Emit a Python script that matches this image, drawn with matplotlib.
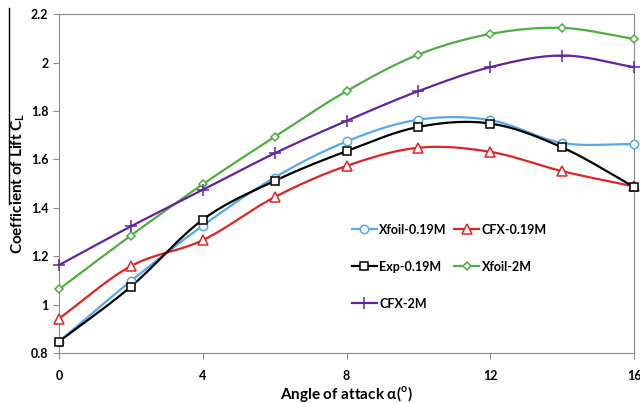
import numpy as np
import matplotlib.pyplot as plt
from matplotlib.lines import Line2D

plt.rcParams['font.family'] = ['Lato', 'DejaVu Sans']
plt.rcParams['mathtext.fontset'] = 'custom'
plt.rcParams['mathtext.rm'] = 'Lato'
plt.rcParams['mathtext.bf'] = 'Lato:bold'

# angle of attack (deg)
alpha = [0, 2, 4, 6, 8, 10, 12, 14, 16]

# lift coefficient
xfoil_019 = [0.847, 1.097, 1.326, 1.525, 1.674, 1.764, 1.762, 1.668, 1.663]
cfx_019 = [0.942, 1.159, 1.266, 1.444, 1.573, 1.648, 1.631, 1.551, 1.488]
exp_019 = [0.847, 1.074, 1.351, 1.511, 1.634, 1.734, 1.748, 1.649, 1.486]
xfoil_2m = [1.063, 1.285, 1.497, 1.693, 1.882, 2.033, 2.118, 2.143, 2.097]
cfx_2m = [1.163, 1.323, 1.474, 1.625, 1.759, 1.882, 1.981, 2.029, 1.981]

labels = ['Xfoil-0.19M', 'CFX-0.19M', 'Exp-0.19M', 'Xfoil-2M', 'CFX-2M']
colors = ['#55a8ec', '#e02424', '#000000', '#4caf3f', '#6422a0']
markers = ['o', '^', 's', 'D', '+']
msizes = [6, 7.5, 6, 4.5, 8]


def smooth(x, y, n=20):
    # Catmull-Rom curve through the points (like Excel's smoothed line)
    x = np.asarray(x, float)
    y = np.asarray(y, float)
    px = np.concatenate([[2 * x[0] - x[1]], x, [2 * x[-1] - x[-2]]])
    py = np.concatenate([[2 * y[0] - y[1]], y, [2 * y[-1] - y[-2]]])
    xs, ys = [], []
    t = np.linspace(0, 1, n, endpoint=False)
    for i in range(1, len(px) - 2):
        for p, out in ((px, xs), (py, ys)):
            p0, p1, p2, p3 = p[i - 1], p[i], p[i + 1], p[i + 2]
            out.extend(0.5 * (2 * p1 + (-p0 + p2) * t
                              + (2 * p0 - 5 * p1 + 4 * p2 - p3) * t ** 2
                              + (-p0 + 3 * p1 - 3 * p2 + p3) * t ** 3))
    xs.append(x[-1])
    ys.append(y[-1])
    return xs, ys


fig = plt.figure(figsize=(6.4, 4.03), dpi=100)
ax = fig.add_axes([0.092, 0.124, 0.899, 0.841])

series = [xfoil_019, cfx_019, exp_019, xfoil_2m, cfx_2m]
handles = {}
for vals, lab, c, m, ms in zip(series, labels, colors, markers, msizes):
    sx, sy = smooth(alpha, vals)
    ax.plot(sx, sy, color=c, lw=1.6, zorder=2)
    ax.plot(alpha, vals, ls='none', marker=m, ms=ms, mfc='white', mec=c,
            mew=1.1, zorder=3, clip_on=False)
    handles[lab] = Line2D([], [], color=c, lw=1.6, marker=m, ms=ms,
                          mfc='white', mec=c, mew=1.1)

ax.set_xlim(0, 16)
ax.set_ylim(0.8, 2.2)
ax.set_xticks([0, 4, 8, 12, 16])
ax.set_yticks(np.arange(0.8, 2.21, 0.2))
ax.set_yticklabels(['0.8', '1', '1.2', '1.4', '1.6', '1.8', '2', '2.2'])
for s in ax.spines.values():
    s.set_color('#8a8a8a')
ax.tick_params(direction='out', length=4, color='#8a8a8a', labelsize=9)
for t in ax.get_xticklabels() + ax.get_yticklabels():
    t.set_fontweight('bold')
ax.tick_params(axis='x', pad=8)

ax.set_xlabel(r'Angle of attack α($^{\mathbf{o}}$)', fontsize=11,
              fontweight='bold', labelpad=2)
ax.set_ylabel(r'Coefficient of Lift C$_{\mathbf{L}}$', fontsize=11,
              fontweight='bold', labelpad=3)

# legend reads row by row in the original; matplotlib fills column by column
order = ['Xfoil-0.19M', 'Exp-0.19M', 'CFX-2M', 'CFX-0.19M', 'Xfoil-2M']
ax.legend([handles[k] for k in order], order, ncol=2, frameon=False,
          loc='upper left', bbox_to_anchor=(0.498, 0.40), borderpad=0,
          labelspacing=2.0, handlelength=2.0, handletextpad=0.2,
          columnspacing=0.6, prop={'weight': 'bold', 'size': 9})

# stray vertical line at top-left of the original picture
fig.add_artist(Line2D([0.014, 0.014], [0.495, 0.98], color='black', lw=1.0))

fig.savefig('out.png', dpi=100)
